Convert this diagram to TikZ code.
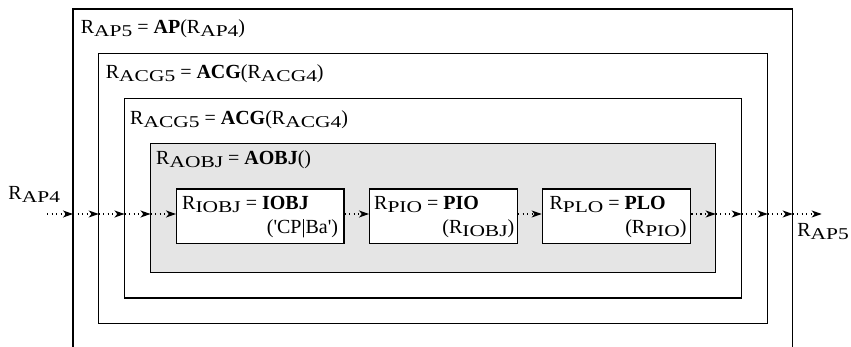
\documentclass[tikz,border=0pt]{standalone}
\usepackage{fontspec}
\setmainfont{Liberation Serif}
\newfontfamily\subfont{Liberation Serif}[FakeStretch=1.3]
\usetikzlibrary{arrows.meta}
\newcommand\sbs[1]{\raisebox{-3pt}{\subfont\fontsize{16.5}{16.5}\selectfont #1}}
\newcommand\Rs[1]{R\sbs{#1}}
\newcommand\q{\textquotesingle}
\begin{document}
\begin{tikzpicture}[x=1pt,y=-1pt,
  frame/.style={draw, line width=1.4pt},
  opbox/.style={draw, line width=1.4pt, fill=white, inner sep=0pt, anchor=north west, minimum height=54.5pt},
  lbl/.style={inner sep=0pt, font=\fontsize{20}{24}\selectfont},
  flow/.style={line width=1.1pt, dash pattern=on 1.1pt off 3.4pt, -{Stealth[length=10pt,width=7pt,inset=2.8pt]}}]
\useasboundingbox (0,0) rectangle (851,347);
% frames
\draw[frame] (73,347) -- (73,9) -- (792.7,9) -- (792.7,347);
\draw[frame] (98.7,53.3) rectangle (767.7,323.3);
\draw[frame] (124.5,98.7) rectangle (741.7,297.8);
\filldraw[frame, fill=black!10] (150.5,143.3) rectangle (715.7,272.3);
% operator boxes
\node[opbox, minimum width=167.3pt] (iobj) at (176,188.3) {};
\node[opbox, minimum width=147.7pt] (pio) at (369,188.3) {};
\node[opbox, minimum width=148.3pt] (plo) at (541.7,188.3) {};
% titles
\node[lbl, anchor=base west] (t0) at (80.7,33.3) {\Rs{AP5} = \textbf{AP}(\Rs{AP4})};
\node[lbl, anchor=base west] (t1) at (105.7,78.3) {\Rs{ACG5} = \textbf{ACG}(\Rs{ACG4})};
\node[lbl, anchor=base west] (t2) at (130,125) {\Rs{ACG5} = \textbf{ACG}(\Rs{ACG4})};
\node[lbl, anchor=base west] (t3) at (156,165) {\Rs{AOBJ} = \textbf{AOBJ}()};
\node[lbl, anchor=base west] (i1) at (182,209.3) {\Rs{IOBJ} = \textbf{IOBJ}};
\node[lbl, anchor=base east] (i2) at (338.3,234) {(\q CP|Ba\q)};
\node[lbl, anchor=base west] (p1) at (374,209.3) {\Rs{PIO} = \textbf{PIO}};
\node[lbl, anchor=base east] (p2) at (514.5,234) {(\Rs{IOBJ})};
\node[lbl, anchor=base west] (l1) at (549.3,209.3) {\Rs{PLO} = \textbf{PLO}};
\node[lbl, anchor=base east] (l2) at (686.7,234) {(\Rs{PIO})};
\node[lbl, anchor=base west] (rin) at (8.3,200) {\Rs{AP4}};
\node[lbl, anchor=base east] (rout) at (849,237) {\Rs{AP5}};
% flow points
\coordinate (c0) at (47,214);
\coordinate (c1) at (73,214);
\coordinate (c2) at (98.7,214);
\coordinate (c3) at (124.5,214);
\coordinate (c4) at (150.5,214);
\coordinate (c5) at (715.7,214);
\coordinate (c6) at (741.7,214);
\coordinate (c7) at (767.7,214);
\coordinate (c8) at (792.7,214);
\coordinate (c9) at (821.7,214);
\draw[flow] (c0) -- (c1);
\draw[flow] (c1) -- (c2);
\draw[flow] (c2) -- (c3);
\draw[flow] (c3) -- (c4);
\draw[flow] (c4) -- (c4 -| iobj.west);
\draw[flow] (c4 -| iobj.east) -- (c4 -| pio.west);
\draw[flow] (c4 -| pio.east) -- (c4 -| plo.west);
\draw[flow] (c4 -| plo.east) -- (c5);
\draw[flow] (c5) -- (c6);
\draw[flow] (c6) -- (c7);
\draw[flow] (c7) -- (c8);
\draw[flow] (c8) -- (c9);
\end{tikzpicture}
\end{document}
